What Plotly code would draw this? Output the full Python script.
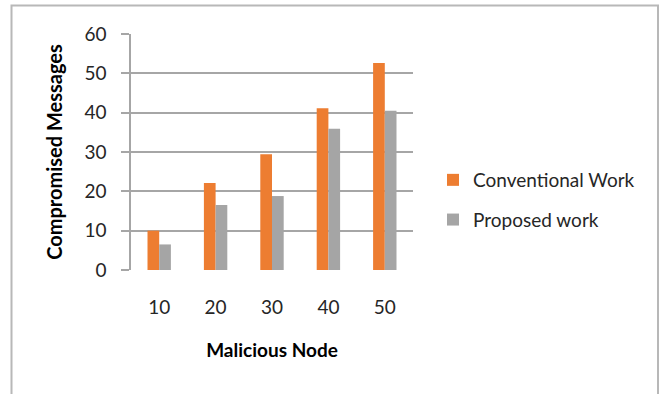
import plotly.graph_objects as go

# Number of malicious nodes on the x axis
malicious_nodes = ["10", "20", "30", "40", "50"]

# Compromised messages per approach
conventional_work = [10, 22.1, 29.4, 41.1, 52.6]
proposed_work = [6.5, 16.5, 18.8, 35.9, 40.5]

y_ticks = [0, 10, 20, 30, 40, 50, 60]

FONT = "Lato"
TEXT = "#262626"
GRID = "#a6a6a6"

fig = go.Figure()
fig.add_trace(go.Bar(
    x=malicious_nodes, y=conventional_work, name="Conventional Work",
    marker=dict(color="#ed7d31", line=dict(width=0)), legendgroup="a",
))
fig.add_trace(go.Bar(
    x=malicious_nodes, y=proposed_work, name="Proposed work",
    marker=dict(color="#a5a5a5", line=dict(width=0)), legendgroup="b",
))

L, R, T, B = 131, 413, 34, 270
W, H = 663, 394
pw, ph = R - L, B - T


def px(x):
    return (x - L) / pw


def py(y):
    return (B - y) / ph


fig.update_layout(
    width=W, height=H,
    margin=dict(l=L, r=W - R, t=T, b=H - B),
    paper_bgcolor="white", plot_bgcolor="white",
    barmode="group", bargap=0.585, bargroupgap=0,
    font=dict(family=FONT, color=TEXT, size=19),
    showlegend=True,
    legend=dict(
        x=px(433), y=py(161), xanchor="left", yanchor="top",
        font=dict(family=FONT, size=19, color=TEXT),
        tracegroupgap=12, bgcolor="rgba(0,0,0,0)",
    ),
    xaxis=dict(
        type="category", showgrid=False, showline=False, ticks="",
        ticklabelstandoff=24,
        tickfont=dict(family=FONT, size=19, color=TEXT),
        title=dict(text="<b>Malicious Node</b>", standoff=26,
                   font=dict(family=FONT, size=19, color="#000000")),
        automargin=False,
    ),
    yaxis=dict(
        range=[0, 60], tickvals=y_ticks, showgrid=True, gridcolor=GRID, gridwidth=1.5,
        showline=True, linecolor=GRID, linewidth=1.5,
        ticks="outside", ticklen=8, tickcolor=GRID, tickwidth=1.5,
        ticklabelstandoff=11,
        zeroline=False,
        tickfont=dict(family=FONT, size=19, color=TEXT),
        title=dict(text="<b>Compromised Messages</b>", standoff=16,
                   font=dict(family=FONT, size=20, color="#000000")),
        automargin=False,
    ),
)

# Outer chart-area frame
fig.add_shape(
    type="rect", xref="paper", yref="paper",
    x0=px(11.5), x1=px(658), y0=py(400), y1=py(5.5),
    line=dict(color="#b8b8b8", width=2), fillcolor="rgba(0,0,0,0)", layer="below",
)

fig.write_html("out.html")
